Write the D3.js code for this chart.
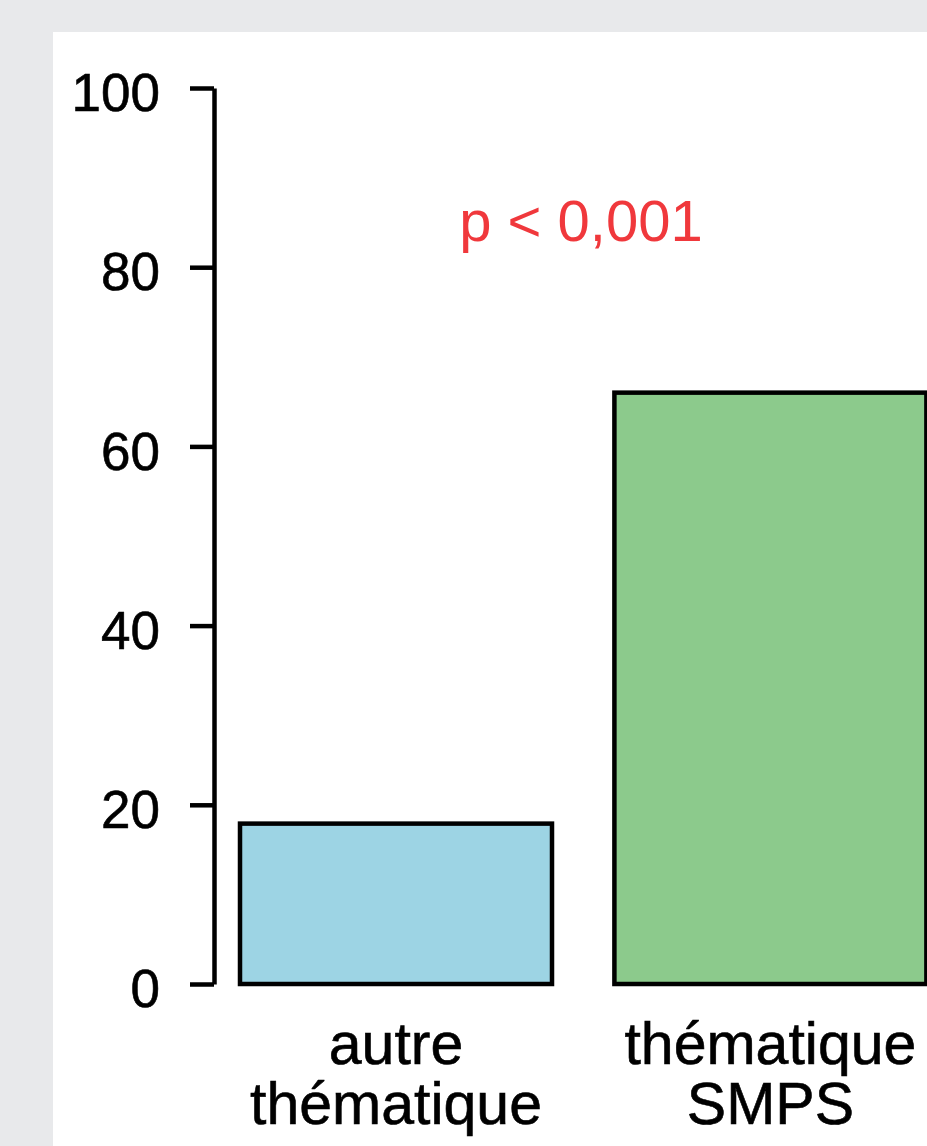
<!DOCTYPE html>
<html>
<head>
<meta charset="utf-8">
<script src="https://cdn.jsdelivr.net/npm/d3@7"></script>
<style>
  html, body { margin: 0; padding: 0; background: #e8e9eb; overflow: hidden; }
  svg { display: block; }
</style>
</head>
<body>
<div id="chart"></div>
<script>
// data
const categories = [["autre", "thématique"], ["thématique", "SMPS"]];
const values = [17.9, 66.0];
const barColors = ["#9dd4e4", "#8cca8c"];
const yTicks = [0, 20, 40, 60, 80, 100];
const pLabel = "p < 0,001";

const width = 927, height = 1146;
const font = "'Liberation Sans', Arial, sans-serif";

const svg = d3.select("#chart")
    .append("svg")
    .attr("width", width)
    .attr("height", height);

// white plotting panel on grey page
svg.append("rect")
    .attr("x", 53)
    .attr("y", 32)
    .attr("width", width)
    .attr("height", height)
    .attr("fill", "#ffffff");

const keys = categories.map((c, i) => i);

// R barplot style: width 1, space 0.2
const xScale = d3.scaleBand()
    .domain(keys)
    .range([240, 926.4])
    .paddingInner(1 / 6)
    .paddingOuter(0);

const yScale = d3.scaleLinear()
    .domain([0, 100])
    .range([984, 88]);

// bars
svg.selectAll("rect.bar")
    .data(values)
    .join("rect")
    .attr("class", "bar")
    .attr("x", (d, i) => xScale(i))
    .attr("y", d => yScale(d))
    .attr("width", xScale.bandwidth())
    .attr("height", d => yScale(0) - yScale(d))
    .attr("fill", (d, i) => barColors[i])
    .attr("stroke", "#000")
    .attr("stroke-width", 4.5);

// Y-axis
const yAxis = d3.axisLeft(yScale)
    .tickValues(yTicks)
    .tickSize(24)
    .tickSizeOuter(0)
    .tickPadding(30);

const yg = svg.append("g")
    .attr("transform", "translate(214, 0)")
    .call(yAxis);

yg.select(".domain").attr("stroke", "#000").attr("stroke-width", 4.5);
yg.selectAll(".tick line").attr("stroke", "#000").attr("stroke-width", 4.5);
yg.selectAll(".tick text")
    .attr("font-family", font)
    .attr("font-size", "53px")
    .attr("fill", "#000")
    .attr("stroke", "#000")
    .attr("stroke-width", 0.6)
    .attr("dy", "0.43em");

// category labels (two lines each)
const labels = svg.selectAll("text.cat")
    .data(categories)
    .join("text")
    .attr("class", "cat")
    .attr("text-anchor", "middle")
    .attr("font-family", font)
    .attr("font-size", "59px")
    .attr("fill", "#000")
    .attr("stroke", "#000")
    .attr("stroke-width", 0.6);

labels.selectAll("tspan")
    .data((d, i) => d.map((line, j) => ({ line, j, i })))
    .join("tspan")
    .attr("x", d => xScale(d.i) + xScale.bandwidth() / 2)
    .attr("y", d => 1064 + d.j * 60)
    .text(d => d.line);

// p-value annotation
svg.append("text")
    .attr("x", 581)
    .attr("y", 241)
    .attr("text-anchor", "middle")
    .attr("font-family", font)
    .attr("font-size", "58px")
    .attr("fill", "#f0383c")
    .text(pLabel);
</script>
</body>
</html>
